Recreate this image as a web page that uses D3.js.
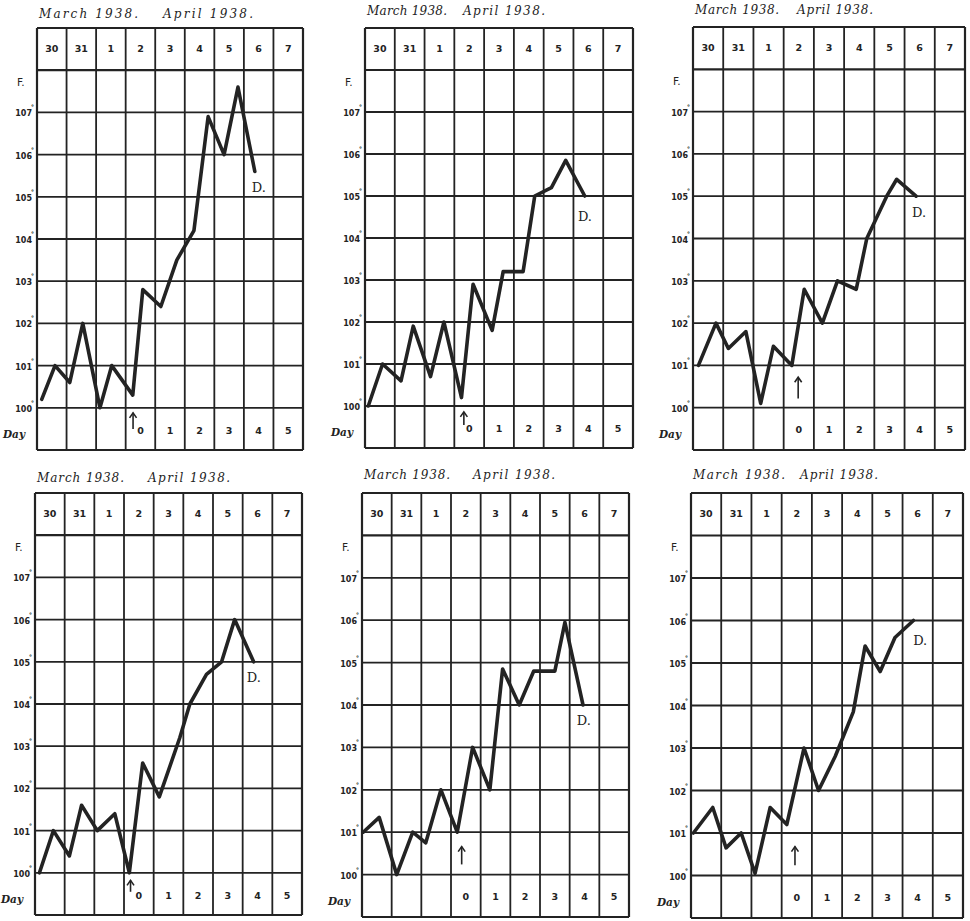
<!DOCTYPE html>
<html>
<head>
<meta charset="utf-8">
<script src="https://cdn.jsdelivr.net/npm/d3@7"></script>
<style>
  body { margin: 0; background: #fff; }
  svg { display: block; }
</style>
</head>
<body>
<svg width="970" height="921"></svg>
<script>
const width = 970
const height = 921

// column headings: date in the top row, day of disease in the bottom row
const dates = ["30", "31", "1", "2", "3", "4", "5", "6", "7"]
const days = ["", "", "", "0", "1", "2", "3", "4", "5"]
const tempTicks = [100, 101, 102, 103, 104, 105, 106, 107]

// readings: time in columns from 30 March, temperature in F
const times1 = [0.16, 0.61, 1.11, 1.55, 2.13, 2.53, 3.24, 3.58, 4.19, 4.73, 5.31, 5.79, 6.33, 6.80, 7.37]
const temps1 = [100.2, 101.0, 100.6, 102.0, 100.0, 101.0, 100.3, 102.8, 102.4, 103.5, 104.2, 106.9, 106.0, 107.6, 105.6]

const times2 = [0.11, 0.59, 1.21, 1.62, 2.20, 2.65, 3.24, 3.63, 4.27, 4.64, 5.31, 5.70, 6.26, 6.74, 7.38]
const temps2 = [100.0, 101.0, 100.6, 101.9, 100.7, 102.0, 100.2, 102.9, 101.8, 103.2, 103.2, 105.0, 105.2, 105.85, 105.0]

const times3 = [0.18, 0.76, 1.17, 1.75, 2.24, 2.66, 3.27, 3.68, 4.28, 4.78, 5.40, 5.75, 6.41, 6.74, 7.38]
const temps3 = [101.0, 102.0, 101.4, 101.8, 100.1, 101.45, 101.0, 102.8, 102.0, 103.0, 102.8, 104.0, 105.0, 105.4, 105.0]

const times4 = [0.15, 0.62, 1.16, 1.57, 2.10, 2.69, 3.18, 3.63, 4.19, 4.88, 5.22, 5.78, 6.29, 6.73, 7.37]
const temps4 = [100.0, 101.0, 100.4, 101.6, 101.0, 101.4, 100.0, 102.6, 101.8, 103.2, 104.0, 104.7, 105.0, 106.0, 105.0]

const times5 = [0.04, 0.58, 1.17, 1.71, 2.15, 2.66, 3.21, 3.73, 4.31, 4.74, 5.30, 5.79, 6.50, 6.84, 7.45]
const temps5 = [101.0, 101.35, 100.0, 101.0, 100.75, 102.0, 101.0, 103.0, 102.0, 104.85, 104.0, 104.8, 104.8, 105.95, 104.0]

const times6 = [0.08, 0.72, 1.16, 1.66, 2.12, 2.62, 3.17, 3.74, 4.22, 4.77, 5.37, 5.76, 6.26, 6.75, 7.36]
const temps6 = [101.0, 101.6, 100.65, 101.0, 100.05, 101.6, 101.2, 103.0, 102.0, 102.8, 103.85, 105.4, 104.8, 105.6, 106.0]

// inoculation arrow (time, top, bottom) and the "D." mark (time, temp)
const arrows = [[3.25, 99.88, 99.5], [3.32, 99.86, 99.55], [3.48, 100.72, 100.22],
                [3.22, 99.82, 99.55], [3.36, 100.66, 100.24], [3.44, 100.68, 100.24]]
const deaths = [[7.27, 105.2], [7.15, 104.5], [7.25, 104.6],
                [7.14, 104.6], [7.24, 103.6], [7.35, 105.5]]

// where each hand drawn chart sits on the page, and how wide its written title runs
const frames = [
  {left: 37, right: 303, top: 28, bottom: 450, titleY: 18, marchW: 99, april: 126, aprilW: 90},
  {left: 365, right: 633, top: 28, bottom: 448, titleY: 15, marchW: 80, april: 98, aprilW: 82},
  {left: 693, right: 965, top: 27, bottom: 450, titleY: 14, marchW: 84, april: 104, aprilW: 76},
  {left: 35, right: 302, top: 493, bottom: 915, titleY: 482, marchW: 87, april: 113, aprilW: 82},
  {left: 362, right: 629, top: 493, bottom: 917, titleY: 479, marchW: 86, april: 111, aprilW: 82},
  {left: 691, right: 963, top: 493, bottom: 918, titleY: 479, marchW: 92, april: 109, aprilW: 78}
]

const series = [
  [times1, temps1], [times2, temps2], [times3, temps3],
  [times4, temps4], [times5, temps5], [times6, temps6]
]

const ink = '#232323'
const hand = '"DejaVu Sans", sans-serif'

const svg = d3.select('svg')
svg.append('rect').attr('width', width).attr('height', height).attr('fill', '#fff')

frames.forEach((f, i) => drawChart(svg.append('g'), f, series[i], arrows[i], deaths[i]))

function drawChart(g, f, s, arrow, death) {
  const x = d3.scaleLinear().domain([0, 9]).range([f.left, f.right])
  const y = d3.scaleLinear().domain([99, 109]).range([f.bottom, f.top])

  // title
  const titles = [['March 1938.', f.left + 2, f.marchW], ['April 1938.', f.left + f.april, f.aprilW]]
  g.selectAll('.title').data(titles).join('text')
    .attr('x', d => d[1]).attr('y', f.titleY)
    .attr('textLength', d => d[2]).attr('lengthAdjust', 'spacing')
    .attr('font-family', '"DejaVu Serif", serif').attr('font-style', 'italic')
    .attr('font-size', 12)
    .attr('fill', ink)
    .text(d => d[0])

  // grid
  g.selectAll('.vline').data(d3.range(0, 10)).join('line')
    .attr('x1', d => x(d)).attr('x2', d => x(d))
    .attr('y1', y(109)).attr('y2', y(99))
    .attr('stroke', ink).attr('stroke-width', d => (d === 0 || d === 9) ? 2.2 : 1.8)

  g.selectAll('.hline').data(d3.range(99, 110)).join('line')
    .attr('x1', x(0)).attr('x2', x(9))
    .attr('y1', d => y(d)).attr('y2', d => y(d))
    .attr('stroke', ink).attr('stroke-width', d => (d === 99 || d === 109 || d === 108) ? 2.2 : 1.8)

  // date row and day row
  g.selectAll('.date').data(dates).join('text')
    .attr('x', (d, i) => x(i + 0.5)).attr('y', y(108.5))
    .attr('text-anchor', 'middle').attr('dominant-baseline', 'middle')
    .attr('font-family', hand).attr('font-size', 9.5).attr('font-weight', 'bold')
    .attr('fill', ink)
    .text(d => d)

  g.selectAll('.day').data(days).join('text')
    .attr('x', (d, i) => x(i + 0.5)).attr('y', y(99.45))
    .attr('text-anchor', 'middle').attr('dominant-baseline', 'middle')
    .attr('font-family', hand).attr('font-size', 9.5).attr('font-weight', 'bold')
    .attr('fill', ink)
    .text(d => d)

  // temperature scale
  const ticks = g.selectAll('.tick').data(tempTicks).join('text')
    .attr('x', x(0) - 3).attr('y', d => y(d) + 1)
    .attr('text-anchor', 'end').attr('dominant-baseline', 'middle')
    .attr('font-family', hand).attr('font-size', 8).attr('font-weight', 'bold')
    .attr('fill', ink)
  ticks.append('tspan').text(d => d)
  ticks.append('tspan').attr('dy', -6).attr('dx', -1).attr('font-size', 6).text('°')

  g.append('text')
    .attr('x', x(0) - 20).attr('y', y(107.7))
    .attr('dominant-baseline', 'middle')
    .attr('font-family', hand).attr('font-size', 10.5).attr('fill', ink)
    .text('F.')

  g.append('text')
    .attr('x', x(0) - 34).attr('y', y(99.35))
    .attr('dominant-baseline', 'middle')
    .attr('font-family', '"DejaVu Serif", serif').attr('font-style', 'italic')
    .attr('font-size', 10.5).attr('font-weight', 'bold').attr('fill', ink)
    .text('Day')

  // temperature curve
  const line = d3.line().x(d => x(d[0])).y(d => y(d[1]))
  g.append('path')
    .datum(d3.zip(s[0], s[1]))
    .attr('d', line)
    .attr('fill', 'none').attr('stroke', ink)
    .attr('stroke-width', 3.6).attr('stroke-linejoin', 'round').attr('stroke-linecap', 'round')

  // arrow
  const ax = x(arrow[0]), aTop = y(arrow[1]), aBot = y(arrow[2])
  g.append('line')
    .attr('x1', ax).attr('x2', ax).attr('y1', aTop).attr('y2', aBot)
    .attr('stroke', ink).attr('stroke-width', 1.6)
  g.append('path')
    .attr('d', `M${ax - 3.5},${aTop + 5} L${ax},${aTop} L${ax + 3.5},${aTop + 5}`)
    .attr('fill', 'none').attr('stroke', ink).attr('stroke-width', 1.6)

  // death
  g.append('text')
    .attr('x', x(death[0])).attr('y', y(death[1]))
    .attr('dominant-baseline', 'middle')
    .attr('font-family', '"DejaVu Serif", serif').attr('font-size', 13)
    .attr('fill', ink)
    .text('D.')
}
</script>
</body>
</html>
